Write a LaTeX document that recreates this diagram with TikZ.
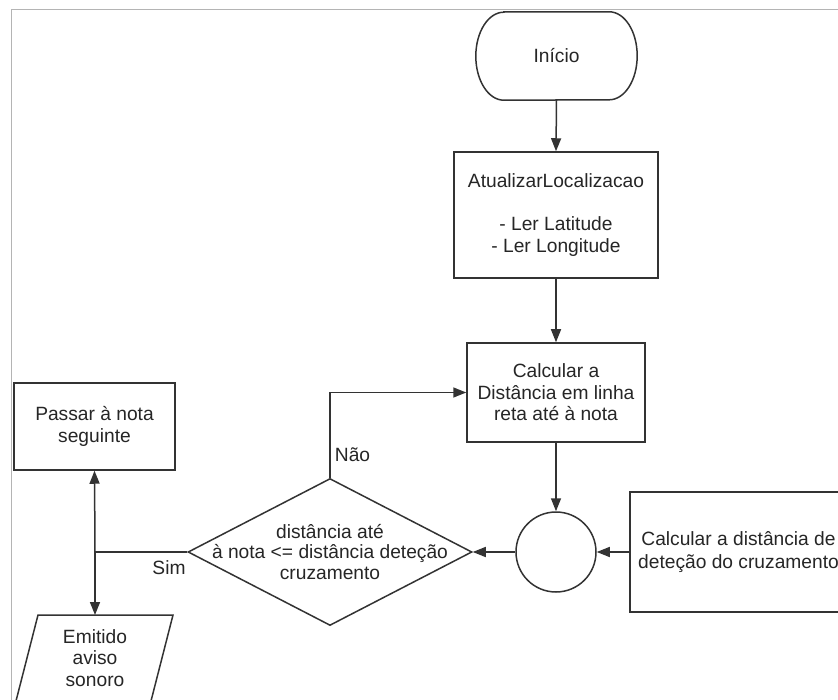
\documentclass[tikz,border=0pt]{standalone}
\usepackage{fontspec}
\setmainfont{Liberation Sans}
\usetikzlibrary{arrows.meta,shapes.geometric}
\definecolor{ink}{HTML}{333333}
\definecolor{framegray}{HTML}{B4B4B4}
\begin{document}
\begin{tikzpicture}[x=1pt,y=1pt,
  every node/.style={font=\fontsize{19.2}{21.5}\selectfont, text=black!85, align=center, inner sep=0pt},
  box/.style={draw=ink, line width=1.5pt, rectangle},
  link/.style={draw=ink, line width=1.5pt},
  flow/.style={link, -{Triangle[length=13pt,width=10pt]}}]
\useasboundingbox (0,0) rectangle (838,-700);
\fill[white] (0,0) rectangle (838,-700);
% sheet border
\draw[framegray, line width=1.2pt] (838,-9.5) -- (11.5,-9.5) -- (11.5,-700);

% start terminator
\node (inicio) [minimum width=161pt, minimum height=88pt] at (556.5,-56) {Início};
\draw[link] ([xshift=28pt]inicio.north west) -- ([xshift=-28pt]inicio.north east)
  arc[start angle=90, end angle=-90, x radius=28pt, y radius=44pt]
  -- ([xshift=28pt]inicio.south west)
  arc[start angle=270, end angle=90, x radius=28pt, y radius=44pt] -- cycle;

% process boxes
\node[box, minimum width=204pt, minimum height=126pt] (atual) at (556,-215)
  {AtualizarLocalizacao\\[21.5pt]- Ler Latitude\\- Ler Longitude};
\node[box, minimum width=178pt, minimum height=99pt] (calc) at (556,-392.5)
  {Calcular a\\Distância em linha\\reta até à nota};
\node[box, minimum width=217pt, minimum height=120pt, font=\fontsize{19.2}{23}\selectfont] (detect) at (738.5,-552)
  {Calcular a distância de\\deteção do cruzamento};
\node[box, minimum width=161pt, minimum height=87pt] (passar) at (94.5,-426.5)
  {Passar à nota\\seguinte};

% connector circle
\node[draw=ink, line width=1.5pt, circle, minimum size=80pt] (junc) at (556,-552) {};

% decision
\node[draw=ink, line width=1.5pt, diamond, minimum width=284pt, minimum height=147pt] (dec) at (330,-552) {};
\node[font=\fontsize{19.2}{20.5}\selectfont] (dectext) at (dec.center)
  {distância até\\à nota <= distância deteção\\cruzamento};

% output (parallelogram)
\node (emit) at (95,-658) {Emitido\\aviso\\sonoro};
\draw[link] ([shift={(-57pt,43pt)}]emit.center) -- ([shift={(78pt,43pt)}]emit.center)
  -- ([shift={(56pt,-43pt)}]emit.center) -- ([shift={(-79pt,-43pt)}]emit.center) -- cycle;
\coordinate (emittop) at ([yshift=43pt]emit.center);

% connectors
\coordinate (split) at (95,-552);
\draw[flow] (inicio.south) -- (atual.north);
\draw[flow] (atual.south) -- (calc.north);
\draw[flow] (calc.south) -- (junc.north);
\draw[flow] (detect.west) -- (junc.east);
\draw[flow] (junc.west) -- (dec.east);
\draw[flow] (dec.north) |- (calc.west);
\draw[link] (dec.west) -- (split);
\draw[flow] (split) -- (passar.south);
\draw[flow] (split) -- (emittop);

% branch labels
\node (nao) at (352.5,-455) {Não};
\node (sim) at (169,-568) {Sim};
\end{tikzpicture}
\end{document}
